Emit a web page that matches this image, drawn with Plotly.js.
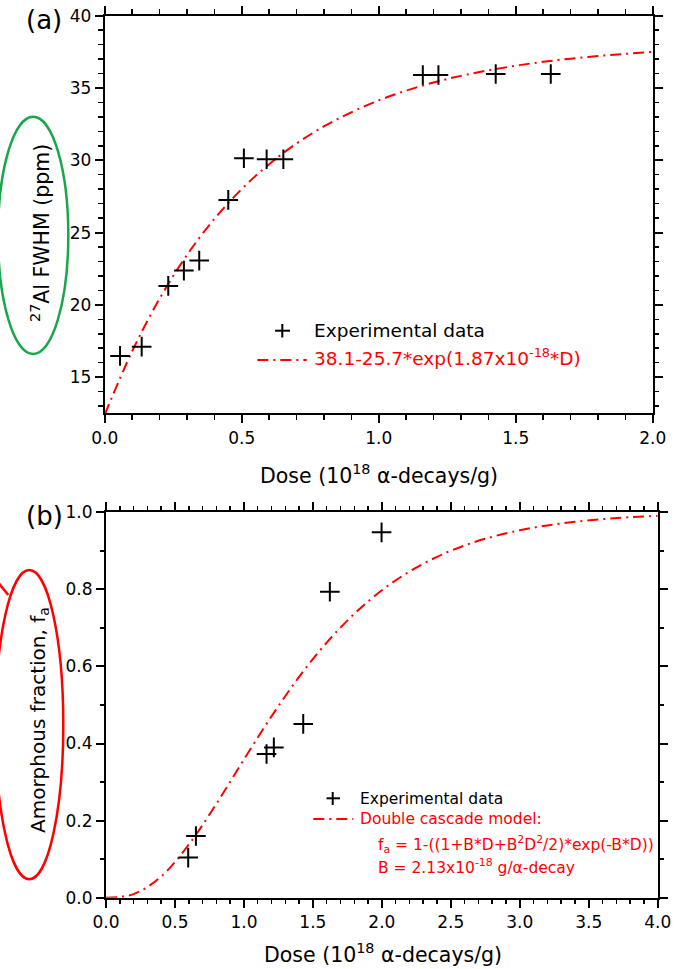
<!DOCTYPE html>
<html>
<head>
<meta charset="utf-8">
<script src="https://cdn.plot.ly/plotly-3.0.1.min.js"></script>
<style>html,body{margin:0;padding:0;background:#fff;}#chart{width:687px;height:969px;}</style>
</head>
<body>
<div id="chart"></div>
<script>
// ---- Panel (a): 27Al FWHM vs dose ----
const topDose = [0.056, 0.135, 0.232, 0.289, 0.345, 0.451, 0.508, 0.591, 0.652, 1.161, 1.218, 1.427, 1.628];
const topFWHM = [16.47, 17.11, 21.31, 22.37, 23.06, 27.26, 30.14, 30.07, 30.07, 35.90, 35.90, 35.97, 35.97];
const fitDose = [0, 0.1, 0.2, 0.3, 0.4, 0.5, 0.6, 0.7, 0.8, 0.9, 1.0, 1.1, 1.2, 1.3, 1.4, 1.5, 1.6, 1.7, 1.8, 1.9, 2.0];
const fitFWHM = [12.40, 16.78, 20.42, 23.44, 25.94, 28.01, 29.73, 31.16, 32.34, 33.32, 34.14, 34.82, 35.38, 35.84, 36.22, 36.54, 36.81, 37.03, 37.21, 37.36, 37.49];
const topXTicks = ['0.0', '0.5', '1.0', '1.5', '2.0'];
const topYTicks = ['15', '20', '25', '30', '35', '40'];

// ---- Panel (b): amorphous fraction vs dose ----
const botDose = [0.596, 0.652, 1.164, 1.217, 1.430, 1.623, 1.998];
const botFrac = [0.104, 0.160, 0.373, 0.390, 0.451, 0.794, 0.948];
const modelDose = [0, 0.2, 0.4, 0.6, 0.8, 1.0, 1.2, 1.4, 1.6, 1.8, 2.0, 2.2, 2.4, 2.6, 2.8, 3.0, 3.2, 3.4, 3.6, 3.8, 4.0];
const modelFrac = [0, 0.0094, 0.0551, 0.1378, 0.2436, 0.3587, 0.4706, 0.5729, 0.6619, 0.7365, 0.7976, 0.8463, 0.8845, 0.9140, 0.9364, 0.9534, 0.9660, 0.9753, 0.9822, 0.9872, 0.9909];
const botXTicks = ['0.0', '0.5', '1.0', '1.5', '2.0', '2.5', '3.0', '3.5', '4.0'];
const botYTicks = ['0.0', '0.2', '0.4', '0.6', '0.8', '1.0'];

// ---- texts ----
const panelA = '(a)';
const panelB = '(b)';
const xTitle = 'Dose (10<sup>18</sup> α-decays/g)';
const yTitleA = '<sup>27</sup>Al FWHM (ppm)';
const yTitleB = 'Amorphous fraction, f<sub>a</sub>';
const legExp = 'Experimental data';
const legFitA = '38.1-25.7*exp(1.87x10<sup>-18</sup>*D)';
const legFitB1 = 'Double cascade model:';
const legFitB2 = 'f<sub>a</sub> = 1-((1+B*D+B<sup>2</sup>D<sup>2</sup>/2)*exp(-B*D))';
const legFitB3 = 'B = 2.13x10<sup>-18</sup> g/α-decay';

// ---- geometry helpers (pixel -> paper) ----
const FW = 687, FH = 969;
const ML = 104, MR = 29, MT = 15, MB = 71;
const PW = FW - ML - MR, PH = FH - MT - MB;
const px = x => (x - ML) / PW;
const py = y => (FH - MB - y) / PH;

const FONT = 'DejaVu Sans';
const RED = '#ff0000';
const DASHDOT = '11px,5px,2px,5px';

function axisCommon(extra) {
  return Object.assign({
    showline: true, linecolor: 'black', linewidth: 2, mirror: 'allticks',
    ticks: 'outside', ticklen: 8, tickwidth: 2, tickcolor: 'black',
    showgrid: false, zeroline: false, autorange: false,
    tickfont: {family: FONT, size: 17, color: 'black'}
  }, extra);
}
function minorTicks(step) {
  return {ticks: 'outside', dtick: step, tick0: 0, ticklen: 4.5, tickwidth: 1.5, tickcolor: 'black', showgrid: false};
}

const markerStyle = {symbol: 'cross-thin', size: 14, color: 'black', line: {width: 2, color: 'black'}};

const data = [
  {x: fitDose, y: fitFWHM, xaxis: 'x', yaxis: 'y', mode: 'lines', type: 'scatter',
   line: {color: RED, width: 2, dash: DASHDOT, shape: 'spline'}, hoverinfo: 'skip'},
  {x: topDose, y: topFWHM, xaxis: 'x', yaxis: 'y', mode: 'markers', type: 'scatter',
   marker: markerStyle, cliponaxis: false},
  {x: modelDose, y: modelFrac, xaxis: 'x2', yaxis: 'y2', mode: 'lines', type: 'scatter',
   line: {color: RED, width: 2, dash: DASHDOT, shape: 'spline'}, hoverinfo: 'skip'},
  {x: botDose, y: botFrac, xaxis: 'x2', yaxis: 'y2', mode: 'markers', type: 'scatter',
   marker: markerStyle, cliponaxis: false}
];

function ann(text, x, y, size, color, opts) {
  return Object.assign({text: text, x: px(x), y: py(y), xref: 'paper', yref: 'paper',
    showarrow: false, xanchor: 'center', yanchor: 'middle',
    font: {family: FONT, size: size, color: color || 'black'}}, opts || {});
}
function seg(x0, y0, x1, y1, color, width, dash) {
  return {type: 'line', xref: 'paper', yref: 'paper', x0: px(x0), y0: py(y0), x1: px(x1), y1: py(y1),
    line: {color: color, width: width, dash: dash || 'solid'}};
}

const layout = {
  width: FW, height: FH,
  paper_bgcolor: 'white', plot_bgcolor: 'white',
  showlegend: false,
  margin: {l: ML, r: MR, t: MT, b: MB, pad: 0},
  font: {family: FONT, size: 17, color: 'black'},
  xaxis: axisCommon({domain: [px(104.7), px(652.7)], anchor: 'y', range: [0, 2],
    tickmode: 'array', tickvals: topXTicks.map(Number), ticktext: topXTicks, minor: minorTicks(0.1)}),
  yaxis: axisCommon({domain: [py(413.3), py(15.7)], anchor: 'x', range: [12.5, 40],
    tickmode: 'array', tickvals: topYTicks.map(Number), ticktext: topYTicks, minor: minorTicks(1)}),
  xaxis2: axisCommon({domain: [px(106), px(657.7)], anchor: 'y2', range: [0, 4],
    tickmode: 'array', tickvals: botXTicks.map(Number), ticktext: botXTicks, minor: minorTicks(0.1)}),
  yaxis2: axisCommon({domain: [py(897.7), py(512.3)], anchor: 'x2', range: [0, 1],
    tickmode: 'array', tickvals: botYTicks.map(Number), ticktext: botYTicks, minor: minorTicks(0.1)}),
  annotations: [
    ann(panelA, 44, 20, 26),
    ann(panelB, 44, 516, 26),
    ann(xTitle, 378.5, 474, 20.5),
    ann(xTitle, 382.5, 953, 20.5),
    ann(yTitleA, 41, 233, 20.5, 'black', {textangle: -90}),
    ann(yTitleB, 39, 720, 20, 'black', {textangle: -90}),
    ann(legExp, 312, 330.3, 18.5, 'black', {xanchor: 'left'}),
    ann(legFitA, 312, 357, 18.5, RED, {xanchor: 'left'}),
    ann(legExp, 358, 799, 15.5, 'black', {xanchor: 'left'}),
    ann(legFitB1, 358, 819, 15.5, RED, {xanchor: 'left'}),
    ann(legFitB2, 375.7, 844, 15.5, RED, {xanchor: 'left'}),
    ann(legFitB3, 375.7, 866, 15.5, RED, {xanchor: 'left'})
  ],
  shapes: [
    // highlight ellipses
    {type: 'circle', xref: 'paper', yref: 'paper', x0: px(-2), x1: px(68.3), y0: py(354), y1: py(116.7),
     line: {color: '#1aa64b', width: 2.5}},
    {type: 'circle', xref: 'paper', yref: 'paper', x0: px(-4.7), x1: px(63.3), y0: py(879.3), y1: py(570),
     line: {color: RED, width: 2.5}},
    seg(-1, 583.5, 8.3, 595, RED, 2.5),
    // legend (a)
    seg(275, 330.7, 290, 330.7, 'black', 2),
    seg(282.3, 324, 282.3, 337.5, 'black', 2),
    seg(257.3, 360, 306.7, 360, RED, 2, DASHDOT),
    // legend (b)
    seg(326.5, 798.3, 340, 798.3, 'black', 2),
    seg(332.7, 792, 332.7, 805, 'black', 2),
    seg(313.3, 819, 353.3, 819, RED, 2, DASHDOT)
  ]
};

Plotly.newPlot('chart', data, layout, {staticPlot: true, displayModeBar: false});
</script>
</body>
</html>
